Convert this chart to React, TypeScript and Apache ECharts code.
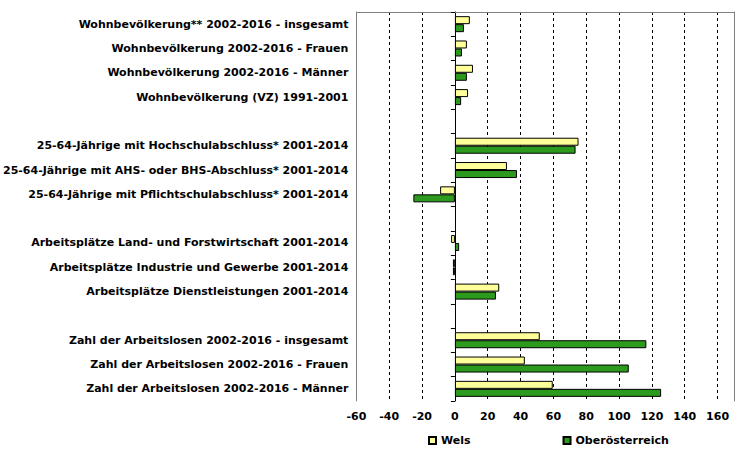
import React, { useEffect, useRef } from "react";
import * as echarts from "echarts";

const categories = [
  "Wohnbevölkerung** 2002-2016 - insgesamt",
  "Wohnbevölkerung 2002-2016 - Frauen",
  "Wohnbevölkerung 2002-2016 - Männer",
  "Wohnbevölkerung (VZ) 1991-2001",
  " ",
  "25-64-Jährige mit Hochschulabschluss* 2001-2014",
  "25-64-Jährige mit AHS- oder BHS-Abschluss* 2001-2014",
  "25-64-Jährige mit Pflichtschulabschluss* 2001-2014",
  "  ",
  "Arbeitsplätze Land- und Forstwirtschaft 2001-2014",
  "Arbeitsplätze Industrie und Gewerbe 2001-2014",
  "Arbeitsplätze Dienstleistungen 2001-2014",
  "   ",
  "Zahl der Arbeitslosen 2002-2016 - insgesamt",
  "Zahl der Arbeitslosen 2002-2016 - Frauen",
  "Zahl der Arbeitslosen 2002-2016 - Männer",
];
const welsValues = [9.1, 7.3, 11, 8, null, 75.3, 31.7, -9, null, -2.3, -1.2, 27, null, 51.7, 42.6, 59.6];
const ooeValues = [5.5, 4.3, 7.3, 3.8, null, 73.5, 37.8, -25.3, null, 2.6, -1.2, 25, null, 116.6, 105.9, 125.6];
const seriesNames = ["Wels", "Oberösterreich"];

const FONT = "DejaVu Sans";
const GRAY = "#808080";

export default function App() {
  const ref = useRef<HTMLDivElement>(null);
  useEffect(() => {
    if (!ref.current) return;
    const chart = echarts.init(ref.current, null, { renderer: "svg" });
    const splitColors = ["transparent"];
    for (let i = 0; i < 11; i++) splitColors.push("#000");
    splitColors.push("transparent");
    chart.setOption({
      animation: false,
      backgroundColor: "#fff",
      textStyle: { fontFamily: FONT },
      grid: {
        left: 355,
        right: 21,
        top: 12,
        bottom: 57,
        show: false,
      },
      legend: {
        data: seriesNames,
        left: 428,
        top: 435,
        padding: 0,
        itemWidth: 7,
        itemHeight: 7,
        itemGap: 92,
        icon: "rect",
        textStyle: { fontFamily: FONT, fontWeight: "bold", fontSize: 11, color: "#000" },
      },
      xAxis: [
        {
          type: "value",
          min: -60,
          max: 170,
          interval: 20,
          axisLine: { show: false },
          axisTick: { show: false },
          axisLabel: {
            showMaxLabel: false,
            fontFamily: FONT,
            fontWeight: "bold",
            fontSize: 11,
            color: "#000",
            margin: 10,
          },
          splitLine: { show: true, lineStyle: { color: splitColors, type: [3, 3], width: 1 } },
        },
        {
          type: "value",
          position: "top",
          min: -60,
          max: 170,
          interval: 20,
          axisLine: { show: true, onZero: false, lineStyle: { color: GRAY } },
          axisTick: { show: false },
          axisLabel: { show: false },
          splitLine: { show: false },
        },
      ],
      yAxis: [
        {
          type: "category",
          data: categories,
          inverse: true,
          axisLine: { show: true, onZero: false, lineStyle: { color: GRAY } },
          axisTick: { show: false },
          axisLabel: {
            fontFamily: FONT,
            fontWeight: "bold",
            fontSize: 11,
            color: "#000",
            margin: 8,
          },
          splitLine: { show: false },
        },
        {
          type: "category",
          data: categories,
          inverse: true,
          position: "right",
          axisLine: { show: true, onZero: true, lineStyle: { color: "#000" } },
          axisTick: { show: true, inside: true, length: 4, lineStyle: { color: "#000" } },
          axisLabel: { show: false },
          splitLine: { show: false },
        },
        {
          type: "category",
          data: categories,
          inverse: true,
          position: "right",
          axisLine: { show: true, onZero: false, lineStyle: { color: GRAY } },
          axisTick: { show: false },
          axisLabel: { show: false },
          splitLine: { show: false },
        },
      ],
      series: [
        {
          name: seriesNames[0],
          type: "bar",
          xAxisIndex: 0,
          yAxisIndex: 0,
          data: welsValues,
          barWidth: 8,
          barGap: "0%",
          itemStyle: { color: "#FFFF99", borderColor: "#000", borderWidth: 1 },
        },
        {
          name: seriesNames[1],
          type: "bar",
          xAxisIndex: 0,
          yAxisIndex: 0,
          data: ooeValues,
          barWidth: 8,
          barGap: "0%",
          itemStyle: { color: "#2C9A1C", borderColor: "#000", borderWidth: 1 },
        },
      ],
    });
    return () => chart.dispose();
  }, []);
  return <div ref={ref} style={{ width: 755, height: 458, position: "absolute", left: 0, top: 0 }} />;
}
